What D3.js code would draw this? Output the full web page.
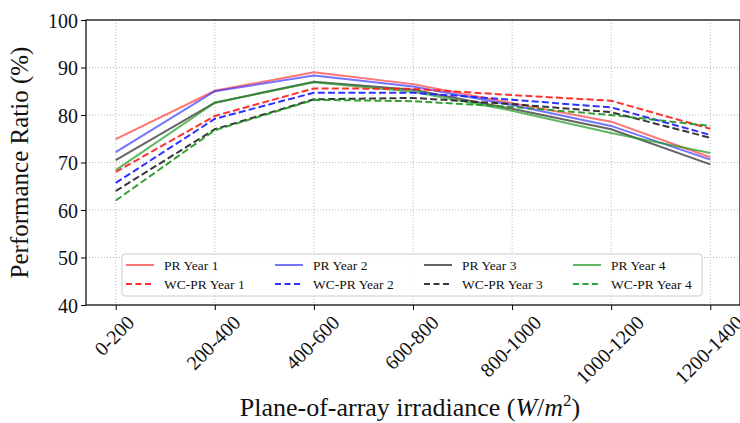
<!DOCTYPE html>
<html>
<head>
<meta charset="utf-8">
<script src="https://cdn.jsdelivr.net/npm/d3@7"></script>
<style>
  body { margin: 0; background: #fff; }
  svg text { font-family: "Liberation Serif", "DejaVu Serif", serif; fill: #111; }
</style>
</head>
<body>
<div class="chart"></div>
<script>
// bins of irradiance
var categories = ["0-200", "200-400", "400-600", "600-800", "800-1000", "1000-1200", "1200-1400"];

// performance ratio per year
var prYear1 = [74.9, 85.1, 89.0, 86.5, 82.5, 78.6, 71.1];
var prYear2 = [72.2, 85.0, 88.3, 86.0, 82.1, 77.7, 70.6];
var prYear3 = [70.5, 82.6, 87.0, 85.3, 81.3, 77.0, 69.6];
var prYear4 = [68.4, 82.6, 86.9, 84.9, 80.9, 76.2, 72.0];

// weather corrected performance ratio
var wcYear1 = [68.0, 79.8, 85.6, 85.5, 84.2, 83.0, 77.1];
var wcYear2 = [65.7, 79.2, 84.7, 84.7, 83.2, 81.6, 75.8];
var wcYear3 = [64.0, 77.0, 83.3, 83.6, 82.3, 80.6, 75.2];
var wcYear4 = [62.0, 76.8, 83.2, 82.9, 81.7, 80.0, 77.7];

var yTicks = [40, 50, 60, 70, 80, 90, 100];

var series = [
  {name: "PR Year 1", values: prYear1, color: "#ff2a2a", op: 0.65, dash: null},
  {name: "PR Year 2", values: prYear2, color: "#2a2aff", op: 0.65, dash: null},
  {name: "PR Year 3", values: prYear3, color: "#222222", op: 0.7, dash: null},
  {name: "PR Year 4", values: prYear4, color: "#1f9a1f", op: 0.7, dash: null},
  {name: "WC-PR Year 1", values: wcYear1, color: "#ff1a1a", op: 0.9, dash: "7,3.2"},
  {name: "WC-PR Year 2", values: wcYear2, color: "#1a1aff", op: 0.9, dash: "7,3.2"},
  {name: "WC-PR Year 3", values: wcYear3, color: "#222222", op: 0.9, dash: "7,3.2"},
  {name: "WC-PR Year 4", values: wcYear4, color: "#1f961f", op: 0.9, dash: "7,3.2"}
];

var W = 740, H = 423;
var mLeft = 86, mRight = 740, mTop = 20, mBottom = 305;

var svg = d3.select("div.chart")
            .append("svg")
            .attr("width", W)
            .attr("height", H);

// x is a point scale with matplotlib style margins
var x = d3.scaleLinear()
          .domain([-0.3, categories.length - 1 + 0.3])
          .range([mLeft, mRight]);

var y = d3.scaleLinear()
          .domain([40, 100])
          .range([mBottom, mTop]);

// grid
var grid = svg.append("g").attr("class", "grid");
grid.selectAll(".gx")
    .data(categories)
    .enter()
    .append("line")
      .attr("x1", function(d, i){ return x(i); })
      .attr("x2", function(d, i){ return x(i); })
      .attr("y1", mTop)
      .attr("y2", mBottom)
      .attr("stroke", "#b8b8b8")
      .attr("stroke-dasharray", "1,2");
grid.selectAll(".gy")
    .data(yTicks)
    .enter()
    .append("line")
      .attr("x1", mLeft)
      .attr("x2", mRight)
      .attr("y1", function(d){ return y(d); })
      .attr("y2", function(d){ return y(d); })
      .attr("stroke", "#b8b8b8")
      .attr("stroke-dasharray", "1,2");

// lines
var line = d3.line()
             .x(function(d, i){ return x(i); })
             .y(function(d){ return y(d); });

svg.selectAll(".series")
   .data(series)
   .enter()
   .append("path")
     .attr("d", function(d){ return line(d.values); })
     .attr("fill", "none")
     .attr("stroke", function(d){ return d.color; })
     .attr("stroke-opacity", function(d){ return d.op; })
     .attr("stroke-width", 2)
     .attr("stroke-dasharray", function(d){ return d.dash; });

// axes
var xAxis = d3.axisBottom(x)
              .tickValues(d3.range(categories.length))
              .tickFormat(function(i){ return categories[i]; })
              .tickSize(5)
              .tickSizeOuter(0);

var gx = svg.append("g")
            .attr("transform", "translate(0," + mBottom + ")")
            .call(xAxis);
gx.select(".domain").remove();
gx.selectAll("line").attr("stroke", "#000");
gx.selectAll("text")
  .attr("font-size", 20)
  .attr("text-anchor", "middle")
  .attr("dy", null)
  .attr("y", null)
  .attr("dominant-baseline", "central")
  .attr("transform", function(){
      var w = this.getComputedTextLength();
      var off = w * 0.354 + 14;
      return "translate(-2," + off + ") rotate(-45)";
  });

var yAxis = d3.axisLeft(y)
              .tickValues(yTicks)
              .tickSize(5)
              .tickSizeOuter(0);

var gy = svg.append("g")
            .attr("transform", "translate(" + mLeft + ",0)")
            .call(yAxis);
gy.select(".domain").remove();
gy.selectAll("line").attr("stroke", "#000");
gy.selectAll("text")
  .attr("font-size", 20)
  .attr("x", -8)
  .attr("dy", "0.35em");

// frame
svg.append("rect")
   .attr("x", mLeft)
   .attr("y", mTop)
   .attr("width", mRight - mLeft)
   .attr("height", mBottom - mTop)
   .attr("fill", "none")
   .attr("stroke", "#000")
   .attr("stroke-width", 1.2);

// axis labels
svg.append("text")
   .attr("transform", "translate(28," + ((mTop + mBottom) / 2) + ") rotate(-90)")
   .attr("text-anchor", "middle")
   .attr("font-size", 25)
   .text("Performance Ratio (%)");

var xl = svg.append("text")
            .attr("x", (mLeft + mRight) / 2 - 3)
            .attr("y", 416)
            .attr("text-anchor", "middle")
            .attr("font-size", 26);
xl.append("tspan").text("Plane-of-array irradiance (");
xl.append("tspan").attr("font-style", "italic").text("W");
xl.append("tspan").text("/");
xl.append("tspan").attr("font-style", "italic").text("m");
xl.append("tspan").attr("font-size", 17).attr("dy", -10).text("2");
xl.append("tspan").attr("dy", 10).text(")");

// legend
var legend = svg.append("g").attr("transform", "translate(122,254)");
legend.append("rect")
      .attr("width", 580)
      .attr("height", 42)
      .attr("rx", 3)
      .attr("fill", "#fff")
      .attr("fill-opacity", 0.85)
      .attr("stroke", "#ccc");

var items = legend.selectAll(".item")
                  .data(series)
                  .enter()
                  .append("g")
                  .attr("transform", function(d, i){
                      return "translate(" + (4 + (i % 4) * 149) + "," + (11 + Math.floor(i / 4) * 19) + ")";
                  });
items.append("line")
     .attr("x1", 0).attr("x2", 28)
     .attr("stroke", function(d){ return d.color; })
     .attr("stroke-opacity", function(d){ return d.op; })
     .attr("stroke-width", 2)
     .attr("stroke-dasharray", function(d){ return d.dash ? "6,3.5" : null; });
items.append("text")
     .attr("x", 38)
     .attr("dy", "0.35em")
     .attr("font-size", 13.5)
     .text(function(d){ return d.name; });
</script>
</body>
</html>
